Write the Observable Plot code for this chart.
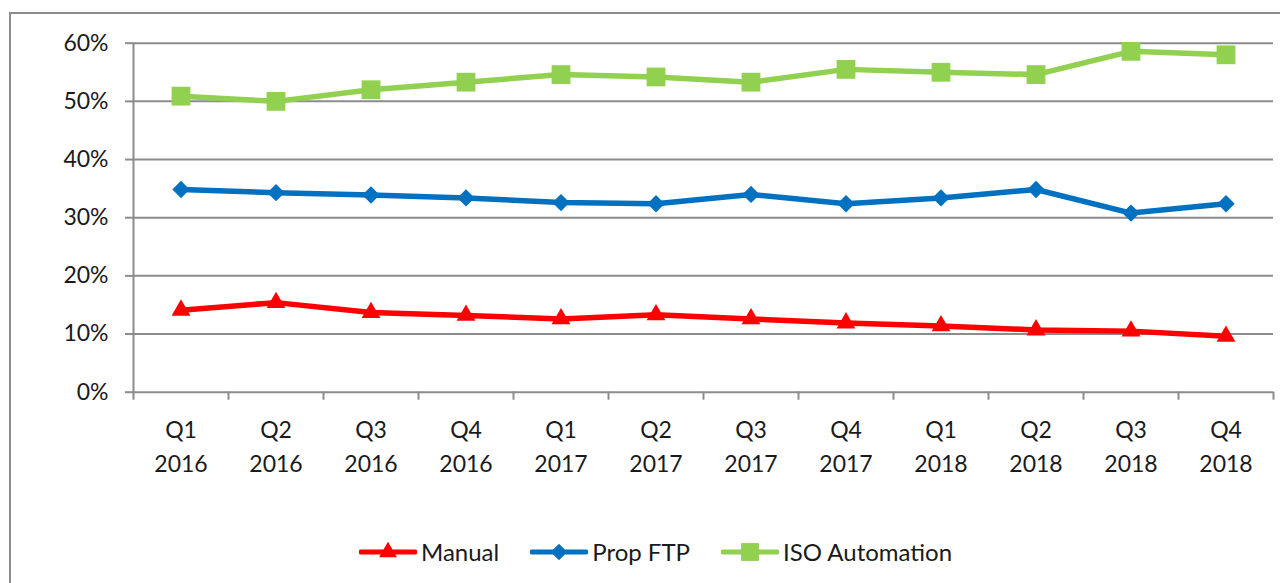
<!DOCTYPE html>
<html>
<head>
<meta charset="utf-8">
<script src="https://cdn.jsdelivr.net/npm/d3@7"></script>
<script src="https://cdn.jsdelivr.net/npm/@observablehq/plot@0.6"></script>
<style>
  html, body { margin: 0; padding: 0; background: #fff; }
  body { width: 1280px; height: 583px; overflow: hidden; position: relative; font-family: Lato, "Open Sans", sans-serif; }
  #frame { position: absolute; left: 9px; top: 12px; width: 1290px; height: 620px; border: 2px solid #8c8c8c; box-sizing: border-box; }
  #chart { position: absolute; left: 0; top: 0; }
  #legend { position: absolute; left: 359px; top: 537px; display: flex; gap: 31px; font-size: 24px; color: #1a1a1a; line-height: 30px; }
  .item { display: flex; align-items: center; gap: 4px; }
</style>
</head>
<body>
<div id="frame"></div>
<div id="chart"></div>
<div id="legend"></div>
<script>
// ---- data ----
const quarters = ["Q1","Q2","Q3","Q4","Q1","Q2","Q3","Q4","Q1","Q2","Q3","Q4"];
const years = ["2016","2016","2016","2016","2017","2017","2017","2017","2018","2018","2018","2018"];
const manual = [14.1, 15.4, 13.7, 13.2, 12.6, 13.3, 12.6, 11.9, 11.4, 10.7, 10.5, 9.6];
const propFTP = [34.85, 34.3, 33.9, 33.4, 32.6, 32.4, 34.0, 32.4, 33.4, 34.85, 30.8, 32.4];
const isoAutomation = [50.9, 50.0, 52.0, 53.3, 54.6, 54.2, 53.3, 55.5, 55.0, 54.6, 58.6, 58.0];
const yTicks = [0, 10, 20, 30, 40, 50, 60];
const seriesNames = ["Manual", "Prop FTP", "ISO Automation"];
const seriesColors = ["#ff0000", "#0070c0", "#92d050"];
const seriesSymbols = ["triangle", "diamond2", "square"];
const seriesR = [7.0, 7.8, 10.6];

// ---- build table ----
const seriesValues = [manual, propFTP, isoAutomation];
const rows = [];
seriesNames.forEach((s, k) => {
  seriesValues[k].forEach((v, i) => rows.push({idx: i + 0.5, series: s, value: v}));
});
const cats = quarters.map((q, i) => ({idx: i + 0.5, label: q + "\n" + years[i]}));
const boundaries = d3.range(quarters.length + 1);

const textColor = "#1a1a1a";
const gridColor = "#8c8c8c";

const marks = [
  Plot.gridY(yTicks, {stroke: gridColor, strokeOpacity: 1, strokeWidth: 2}),
  Plot.ruleX([0], {stroke: gridColor, strokeWidth: 2}),
  Plot.axisY(yTicks, {tickFormat: d => d + "%", tickSize: 8, tickPadding: 17, stroke: gridColor, strokeWidth: 2, fontSize: 23, fill: textColor, label: null}),
  Plot.axisX(boundaries, {tickSize: 8, tickFormat: () => "", stroke: gridColor, strokeWidth: 2, label: null}),
  Plot.text(cats, {x: "idx", y: () => 0, text: "label", dy: 22, lineAnchor: "top", lineHeight: 1.48, fontSize: 23, fill: textColor}),
];
seriesNames.forEach((s, k) => {
  const d = rows.filter(r => r.series === s);
  marks.push(Plot.line(d, {x: "idx", y: "value", stroke: seriesColors[k], strokeWidth: 5.5}));
  marks.push(Plot.dot(d, {x: "idx", y: "value", fill: seriesColors[k], symbol: seriesSymbols[k], r: seriesR[k], stroke: "none"}));
});

const chart = Plot.plot({
  width: 1280,
  height: 520,
  marginLeft: 133,
  marginRight: 7,
  marginTop: 42.7,
  marginBottom: 128.3,
  style: {fontFamily: "Lato, 'Open Sans', sans-serif", background: "transparent", overflow: "visible"},
  x: {type: "linear", domain: [0, quarters.length], axis: null},
  y: {domain: [0, 60], axis: null},
  marks
});
document.getElementById("chart").append(chart);

// ---- legend ----
const legend = document.getElementById("legend");
seriesNames.forEach((s, k) => {
  const item = document.createElement("div");
  item.className = "item";
  const sw = d3.create("svg").attr("width", 58).attr("height", 24);
  sw.append("line").attr("x1", 2).attr("x2", 56).attr("y1", 12).attr("y2", 12)
    .attr("stroke", seriesColors[k]).attr("stroke-width", 5).attr("stroke-linecap", "round");
  const sym = {triangle: d3.symbolTriangle, diamond2: d3.symbolDiamond2, square: d3.symbolSquare}[seriesSymbols[k]];
  const rr = seriesR[k] * 0.95;
  sw.append("path").attr("transform", "translate(29,12)")
    .attr("d", d3.symbol(sym, Math.PI * rr * rr)()).attr("fill", seriesColors[k]);
  item.append(sw.node());
  const t = document.createElement("span");
  t.textContent = s;
  item.append(t);
  legend.append(item);
});
</script>
</body>
</html>
